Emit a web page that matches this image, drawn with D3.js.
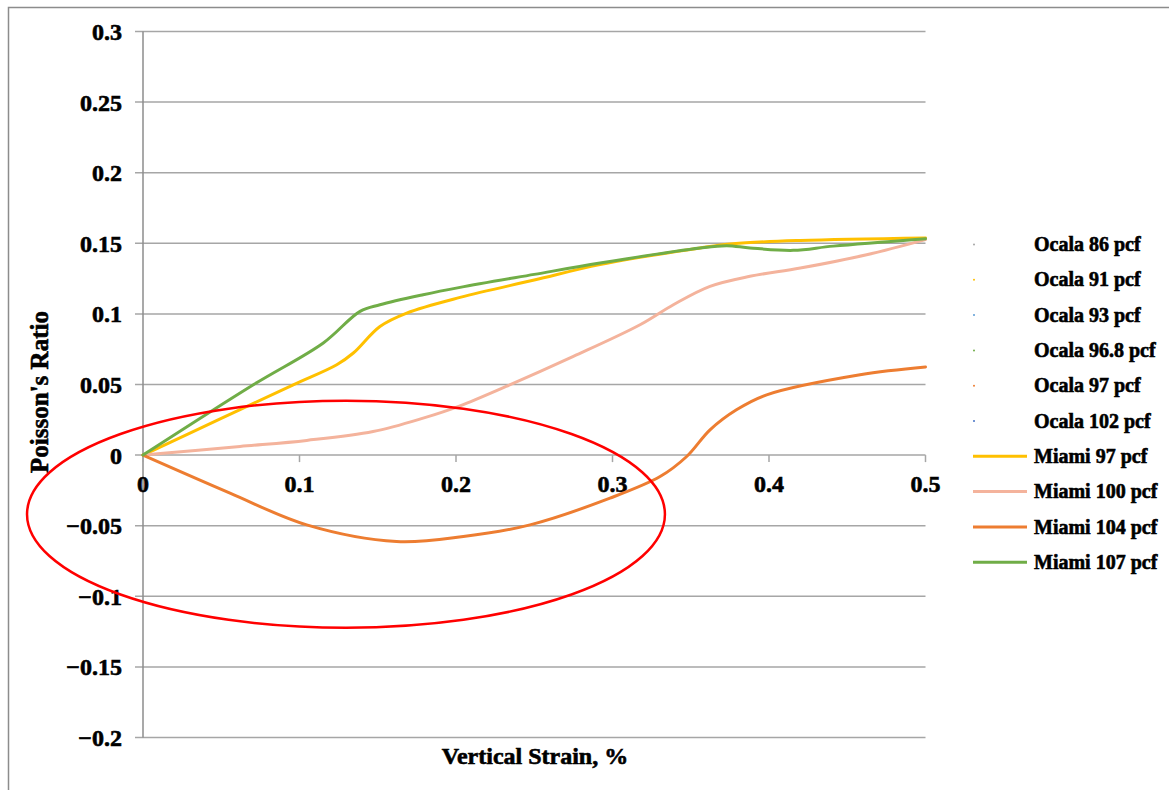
<!DOCTYPE html>
<html>
<head>
<meta charset="utf-8">
<script src="https://cdn.jsdelivr.net/npm/d3@7"></script>
<style>
  html, body { margin: 0; padding: 0; background: #ffffff; }
  svg { display: block; }
  text { font-family: "Liberation Serif", "Times New Roman", serif; font-weight: bold; fill: #000;
         stroke: #000; stroke-width: 0.6px; }
</style>
</head>
<body>
<svg id="chart" width="1169" height="790"></svg>
<script>
// Axis ticks
const xTicks = [0, 0.1, 0.2, 0.3, 0.4, 0.5];
const yTicks = [0.3, 0.25, 0.2, 0.15, 0.1, 0.05, 0, -0.05, -0.1, -0.15, -0.2];

// Legend / series names and colours
const seriesNames = ["Ocala 86 pcf", "Ocala 91 pcf", "Ocala 93 pcf", "Ocala 96.8 pcf", "Ocala 97 pcf",
                     "Ocala 102 pcf", "Miami 97 pcf", "Miami 100 pcf", "Miami 104 pcf", "Miami 107 pcf"];
const seriesColors = ["#a5a5a5", "#ffc000", "#5b9bd5", "#70ad47", "#ed7d31",
                      "#4472c4", "#ffc000", "#f4b39c", "#ed7d31", "#70ad47"];
// Ocala series are marker-only and carry no plotted points here
const seriesIsLine = [false, false, false, false, false, false, true, true, true, true];

// Miami 97 pcf
const miami97Strain = [0, 0.05, 0.096, 0.1238, 0.1344, 0.1514, 0.1685, 0.2026, 0.25, 0.292, 0.356, 0.377, 0.42, 0.5];
const miami97Ratio  = [0, 0.026, 0.0498, 0.064, 0.0723, 0.0911, 0.1006, 0.1117, 0.124, 0.1349, 0.1467, 0.1497, 0.152, 0.1538];
// Miami 100 pcf
const miami100Strain = [0, 0.062, 0.1046, 0.147, 0.179, 0.2026, 0.232, 0.275, 0.3176, 0.3389, 0.3623, 0.3878, 0.42, 0.4624, 0.5];
const miami100Ratio  = [0, 0.0061, 0.0104, 0.0167, 0.0262, 0.0349, 0.0486, 0.0699, 0.0923, 0.1065, 0.1195, 0.1266, 0.1325, 0.1419, 0.1526];
// Miami 104 pcf
const miami104Strain = [0, 0.0556, 0.1046, 0.162, 0.2047, 0.2473, 0.2984, 0.3304, 0.3474, 0.3623, 0.3792, 0.3985, 0.4582, 0.5];
const miami104Ratio  = [0, -0.0269, -0.0494, -0.0612, -0.0577, -0.0494, -0.0305, -0.0152, -0.001, 0.0179, 0.0321, 0.0427, 0.0569, 0.0624];
// Miami 107 pcf
const miami107Strain = [0, 0.0705, 0.1152, 0.1387, 0.1514, 0.179, 0.2026, 0.25, 0.292, 0.356, 0.373, 0.3878, 0.4155, 0.441, 0.5];
const miami107Ratio  = [0, 0.0498, 0.0794, 0.1018, 0.1065, 0.1136, 0.1188, 0.128, 0.136, 0.1467, 0.1483, 0.1467, 0.145, 0.148, 0.1533];

// Highlight ellipse around the negative region (data units)
const highlightCenter = [0.1297, -0.0419];
const highlightRadii = [0.2038, 0.0804];

const svg = d3.select("#chart");
const x = d3.scaleLinear().domain([0, 0.5]).range([143, 925.5]);
const y = d3.scaleLinear().domain([-0.2, 0.3]).range([737.5, 31.5]);

// Outer chart frame
svg.append("path")
  .attr("d", "M8.5,800 L8.5,7.5 L1180,7.5")
  .attr("fill", "none").attr("stroke", "#8c8c8c").attr("stroke-width", 1.5);

// Horizontal gridlines with tick stubs on the left
svg.append("g").selectAll("line").data(yTicks).join("line")
  .attr("x1", 135).attr("x2", x(0.5))
  .attr("y1", d => y(d)).attr("y2", d => y(d))
  .attr("stroke", "#a6a6a6").attr("stroke-width", 1.5);

// Vertical axis line
svg.append("line")
  .attr("x1", x(0)).attr("x2", x(0)).attr("y1", y(0.3)).attr("y2", y(-0.2))
  .attr("stroke", "#8c8c8c").attr("stroke-width", 1.5);

// X tick marks along the zero line
svg.append("g").selectAll("line").data(xTicks).join("line")
  .attr("x1", d => x(d)).attr("x2", d => x(d))
  .attr("y1", y(0)).attr("y2", y(0) + 7)
  .attr("stroke", "#a6a6a6").attr("stroke-width", 1.5);

// Y tick labels
svg.append("g").selectAll("text").data(yTicks).join("text")
  .attr("x", 122).attr("y", d => y(d))
  .attr("dy", "0.35em")
  .attr("text-anchor", "end")
  .style("font-size", "24px")
  .text(d => d3.format("")(d).replace("-", "\u2013"));

// X tick labels
svg.append("g").selectAll("text").data(xTicks).join("text")
  .attr("x", d => x(d)).attr("y", y(0) + 37)
  .attr("text-anchor", "middle")
  .style("font-size", "24px")
  .text(d => d3.format("")(d));

// Axis titles
svg.append("text")
  .attr("x", 535).attr("y", 764)
  .attr("text-anchor", "middle")
  .style("font-size", "24px")
  .text("Vertical Strain, %");

svg.append("text")
  .attr("transform", "translate(48,392) rotate(-90)")
  .attr("text-anchor", "middle")
  .style("font-size", "25px")
  .text("Poisson's Ratio");

// Series lines
const lineSeries = [
  { name: "Miami 97 pcf",  strain: miami97Strain,  ratio: miami97Ratio },
  { name: "Miami 100 pcf", strain: miami100Strain, ratio: miami100Ratio },
  { name: "Miami 104 pcf", strain: miami104Strain, ratio: miami104Ratio },
  { name: "Miami 107 pcf", strain: miami107Strain, ratio: miami107Ratio }
];
const line = d3.line()
  .x(d => x(d[0])).y(d => y(d[1]))
  .curve(d3.curveCatmullRom.alpha(0.5));

svg.append("g").selectAll("path").data(lineSeries).join("path")
  .attr("d", s => line(s.strain.map((v, i) => [v, s.ratio[i]])))
  .attr("fill", "none")
  .attr("stroke", s => seriesColors[seriesNames.indexOf(s.name)])
  .attr("stroke-width", 3)
  .attr("stroke-linejoin", "round")
  .attr("stroke-linecap", "round");

// Highlight ellipse
svg.append("ellipse")
  .attr("cx", x(highlightCenter[0])).attr("cy", y(highlightCenter[1]))
  .attr("rx", x(highlightRadii[0]) - x(0))
  .attr("ry", y(0) - y(highlightRadii[1]))
  .attr("fill", "none").attr("stroke", "#ff0000").attr("stroke-width", 2.5);

// Legend
const legend = svg.append("g");
const legendTop = 244.5, legendStep = 35.3;
const items = legend.selectAll("g").data(seriesNames).join("g")
  .attr("transform", (d, i) => `translate(0,${legendTop + i * legendStep})`);
items.each(function(d, i) {
  const g = d3.select(this);
  if (seriesIsLine[i]) {
    g.append("line").attr("x1", 973).attr("x2", 1027).attr("y1", 0).attr("y2", 0)
      .attr("stroke", seriesColors[i]).attr("stroke-width", 3);
  } else {
    g.append("circle").attr("cx", 974).attr("cy", 0).attr("r", 1)
      .attr("fill", seriesColors[i]);
  }
  g.append("text").attr("x", 1034).attr("y", 0).attr("dy", "0.33em")
    .style("font-size", "20px")
    .text(d);
});
</script>
</body>
</html>
